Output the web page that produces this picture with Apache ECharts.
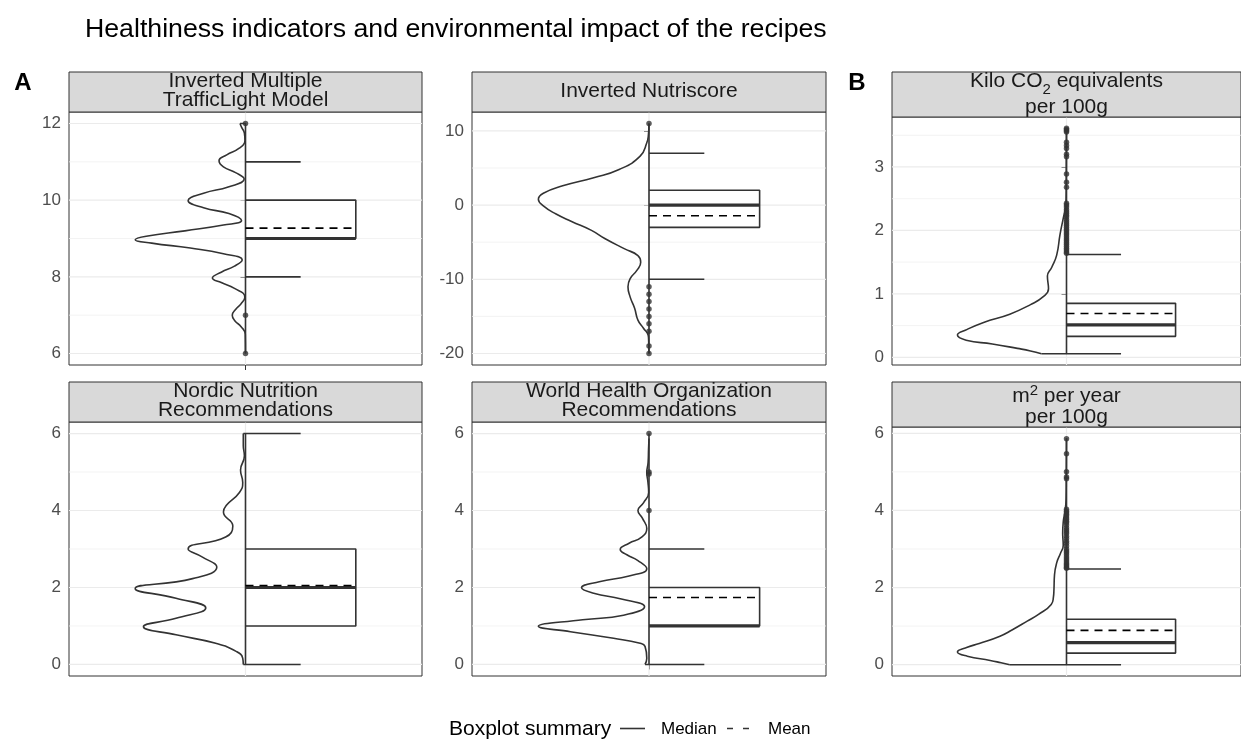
<!DOCTYPE html>
<html><head><meta charset="utf-8">
<script src="https://cdn.jsdelivr.net/npm/echarts@6/dist/echarts.min.js"></script>
<style>html,body{margin:0;padding:0;background:#fff}#c{width:1241px;height:739px}</style>
</head><body><div id="c"></div><script>
const FONT = '"Liberation Sans", Arial, "DejaVu Sans", sans-serif';
const INK = '#333333';

// ---------- text ----------
const mainTitle = 'Healthiness indicators and environmental impact of the recipes';
const stripTitles = [
  '{a|Inverted Multiple}\n{a|TrafficLight Model}',
  '{a|Inverted Nutriscore}',
  '{a|Kilo CO}{sub|2}{a| equivalents}\n{a|per 100g}',
  '{a|Nordic Nutrition}\n{a|Recommendations}',
  '{a|World Health Organization}\n{a|Recommendations}',
  '{a|m}{sup|2}{a| per year}\n{a|per 100g}'
];
const legendTitle = 'Boxplot summary';
const legendLabels = ['Median', 'Mean'];

// ---------- y-axis ticks ----------
const ticksTL = [6, 8, 10, 12],   minorTL = [7, 9, 11];
const ticksNS = [-20, -10, 0, 10], minorNS = [-15, -5, 5];
const ticksCO = [0, 1, 2, 3],     minorCO = [0.5, 1.5, 2.5, 3.5];
const ticksNN = [0, 2, 4, 6],     minorNN = [1, 3, 5];
const ticksWH = [0, 2, 4, 6],     minorWH = [1, 3, 5];
const ticksLU = [0, 2, 4, 6],     minorLU = [1, 3, 5];

// ---------- data ranges [min, max] ----------
const rangeTL = [6, 12];
const rangeNS = [-20, 11];
const rangeCO = [0.056, 3.61];
const rangeNN = [0, 6];
const rangeWH = [0, 6];
const rangeLU = [0, 5.87];

// ---------- density curves [value, relative density] ----------
const densTL = [[6.0,0.0],[6.5,0.002],[6.7,0.04],[6.85,0.095],[7.0,0.12],[7.15,0.09],[7.3,0.04],[7.47,0.006],
  [7.7,0.1],[7.85,0.22],[7.97,0.3],[8.12,0.22],[8.28,0.1],[8.44,0.03],[8.6,0.2],[8.75,0.5],[8.88,0.85],[8.97,1.0],
  [9.06,0.9],[9.2,0.55],[9.35,0.2],[9.47,0.036],[9.65,0.15],[9.8,0.38],[9.99,0.52],[10.18,0.38],[10.35,0.15],
  [10.55,0.012],[10.72,0.09],[10.87,0.2],[11.03,0.24],[11.18,0.17],[11.35,0.06],[11.55,0.005],[11.75,0.01],
  [11.9,0.035],[12.0,0.05]];
const densNS = [[-20,0.0],[-19,0.002],[-18,0.004],[-17.5,0.008],[-16.6,0.05],[-15.5,0.1],[-13.9,0.13],[-12.4,0.17],
  [-11,0.19],[-9.9,0.17],[-8.8,0.11],[-7.7,0.075],[-6.8,0.1],[-5.9,0.22],[-4.5,0.4],[-3.4,0.52],[-2.2,0.7],
  [-1.2,0.84],[-0.1,0.955],[0.8,1.0],[1.6,0.955],[2.6,0.78],[3.7,0.5],[4.8,0.27],[6.6,0.08],[8.4,0.02],[9.5,0.005],[11,0.0]];
const densCO = [[0.056,0.23],[0.1,0.33],[0.14,0.45],[0.21,0.68],[0.27,0.92],[0.35,1.0],[0.44,0.91],[0.55,0.76],
  [0.68,0.52],[0.83,0.33],[0.96,0.21],[1.08,0.165],[1.28,0.175],[1.42,0.135],[1.61,0.09],[1.93,0.06],[2.19,0.03],
  [2.42,0.005],[2.8,0.002],[3.61,0.0]];
const densNN = [[0,0.02],[0.16,0.025],[0.34,0.085],[0.55,0.27],[0.77,0.63],[0.98,0.925],[1.2,0.63],[1.47,0.36],
  [1.72,0.63],[1.97,1.0],[2.23,0.48],[2.53,0.26],[2.79,0.39],[3.0,0.52],[3.31,0.18],[3.6,0.115],[3.96,0.2],
  [4.13,0.175],[4.47,0.055],[4.73,0.025],[5.05,0.045],[5.42,0.01],[5.68,0.02],[6,0.02]];
const densWH = [[0,0.036],[0.16,0.02],[0.47,0.036],[0.55,0.08],[0.68,0.32],[0.85,0.71],[0.99,1.0],[1.16,0.6],
  [1.28,0.23],[1.5,0.04],[1.7,0.25],[1.85,0.5],[1.99,0.61],[2.15,0.45],[2.3,0.18],[2.49,0.02],[2.7,0.1],
  [2.85,0.2],[2.99,0.26],[3.15,0.18],[3.3,0.07],[3.53,0.02],[3.8,0.06],[4.0,0.1],[4.2,0.05],[4.47,0.003],
  [4.75,0.01],[4.99,0.02],[5.25,0.008],[5.6,0.004],[5.87,0.0]];
const densLU = [[0,0.52],[0.05,0.6],[0.11,0.7],[0.22,0.91],[0.33,1.0],[0.45,0.91],[0.55,0.8],[0.74,0.61],
  [0.9,0.5],[1.13,0.36],[1.3,0.26],[1.56,0.14],[1.75,0.12],[1.95,0.115],[2.33,0.11],[2.64,0.09],[2.89,0.055],
  [3.1,0.03],[3.4,0.035],[3.7,0.03],[4.0,0.012],[4.3,0.004],[4.8,0.002],[5.87,0.0]];

// ---------- box stats [lowerWhisker, q1, median, q3, upperWhisker, mean] ----------
const boxTL = [8, 9, 9, 10, 11, 9.27];
const boxNS = [-10, -3, 0, 2, 7, -1.43];
const boxCO = [0.056, 0.33, 0.51, 0.85, 1.62, 0.69];
const boxNN = [0, 1, 2, 3, 6, 2.05];
const boxWH = [0, 1, 1, 2, 3, 1.74];
const boxLU = [0, 0.30, 0.57, 1.18, 2.48, 0.89];

// ---------- outliers ----------
const outTL = [12, 7, 6];
const outNS = [11, -11, -12, -13, -14, -15, -16, -17, -19, -20];
const outCO = [3.61, 3.59, 3.57, 3.55, 3.39, 3.34, 3.29, 3.2, 3.16, 2.89, 2.76, 2.68, 2.43, 2.4, 2.37, 2.33, 2.3,
  2.27, 2.24, 2.21, 2.17, 2.14, 2.11, 2.08, 2.05, 2.02, 1.99, 1.96, 1.93, 1.9, 1.87, 1.84, 1.81, 1.78, 1.75, 1.72,
  1.69, 1.66, 1.64];
const outNN = [];
const outWH = [4, 4.95, 5, 6];
const outLU = [5.86, 5.47, 5.0, 4.87, 4.82, 4.03, 3.98, 3.94, 3.9, 3.86, 3.81, 3.77, 3.72, 3.68, 3.62, 3.55, 3.5,
  3.45, 3.4, 3.33, 3.27, 3.2, 3.15, 3.08, 3.0, 2.95, 2.9, 2.85, 2.79, 2.74, 2.69, 2.64, 2.6, 2.56, 2.52, 2.5];

// ---------- layout (pixels) ----------
const layout = [
  {left: 69,  width: 353, stripTop: 72,  top: 112, bottom: 365, lh: 19.5, cy: 90.5},
  {left: 472, width: 354, stripTop: 72,  top: 112, bottom: 365, lh: 19.5, cy: 91.5},
  {left: 892, width: 349, stripTop: 72,  top: 117, bottom: 365, lh: 26,   cy: 94.5},
  {left: 69,  width: 353, stripTop: 382, top: 422, bottom: 676, lh: 19.5, cy: 400.5},
  {left: 472, width: 354, stripTop: 382, top: 422, bottom: 676, lh: 19.5, cy: 400.5},
  {left: 892, width: 349, stripTop: 382, top: 427, bottom: 676, lh: 21,   cy: 407}
];

const panels = [
  {ticks: ticksTL, minor: minorTL, range: rangeTL, dens: densTL, box: boxTL, out: outTL},
  {ticks: ticksNS, minor: minorNS, range: rangeNS, dens: densNS, box: boxNS, out: outNS},
  {ticks: ticksCO, minor: minorCO, range: rangeCO, dens: densCO, box: boxCO, out: outCO},
  {ticks: ticksNN, minor: minorNN, range: rangeNN, dens: densNN, box: boxNN, out: outNN},
  {ticks: ticksWH, minor: minorWH, range: rangeWH, dens: densWH, box: boxWH, out: outWH},
  {ticks: ticksLU, minor: minorLU, range: rangeLU, dens: densLU, box: boxLU, out: outLU}
];

const HALF = 0.375, WHISK = 0.1875, XR = 0.6, LW = 1.6;
const grids = [], xAxes = [], yAxes = [], series = [], graphics = [];

function seg(i, data, style, z) {
  return {type: 'line', xAxisIndex: i, yAxisIndex: i, z: z, symbol: 'none', silent: true,
    data: data, lineStyle: style};
}

panels.forEach((p, i) => {
  const g = layout[i];
  grids.push({left: g.left, top: g.top, width: g.width, height: g.bottom - g.top,
    show: true, borderColor: INK, borderWidth: 1, backgroundColor: 'rgba(0,0,0,0)'});
  const span = p.range[1] - p.range[0];
  const ymin = p.range[0] - 0.05 * span, ymax = p.range[1] + 0.05 * span;
  xAxes.push({type: 'value', gridIndex: i, min: -XR, max: XR,
    axisLine: {show: false}, splitLine: {show: false},
    axisTick: {show: true, length: 5, customValues: [0], lineStyle: {color: INK, width: 1}},
    axisLabel: {show: false}});
  yAxes.push({type: 'value', gridIndex: i, min: ymin, max: ymax,
    axisLine: {show: false}, splitLine: {show: false},
    axisTick: {show: true, length: 5, customValues: p.ticks, lineStyle: {color: INK, width: 1}},
    axisLabel: {show: true, customValues: p.ticks, color: '#4D4D4D', fontSize: 17, fontFamily: FONT, margin: 8}});
  // grid lines (minor, major, vertical centre)
  p.minor.forEach(v => series.push(seg(i, [[-XR, v], [XR, v]], {color: '#F0F0F0', width: 0.8}, 0)));
  p.ticks.forEach(v => series.push(seg(i, [[-XR, v], [XR, v]], {color: '#EBEBEB', width: 1.2}, 0)));
  series.push(seg(i, [[0, ymin], [0, ymax]], {color: '#EBEBEB', width: 1.2}, 0));
  // half violin curve
  series.push(Object.assign(seg(i, p.dens.map(([y, d]) => [-HALF * d, y]), {color: INK, width: LW}, 3), {smooth: 0.5}));
  const d0 = p.dens[0][1], d1 = p.dens[p.dens.length - 1][1];
  series.push(seg(i, [[-HALF * d0, p.range[0]], [0, p.range[0]], [0, p.range[1]], [-HALF * d1, p.range[1]]],
    {color: INK, width: LW}, 3));
  const [lw, q1, med, q3, uw, mean] = p.box;
  series.push(seg(i, [[0, q1], [HALF, q1], [HALF, q3], [0, q3]], {color: INK, width: LW}, 4));
  series.push(seg(i, [[0, lw], [WHISK, lw]], {color: INK, width: LW}, 4));
  series.push(seg(i, [[0, uw], [WHISK, uw]], {color: INK, width: LW}, 4));
  series.push(seg(i, [[0, med], [HALF, med]], {color: INK, width: 3.2}, 5));
  series.push(seg(i, [[0, mean], [HALF, mean]], {color: '#000', width: 1.6, type: [8, 6]}, 6));
  series.push({type: 'scatter', xAxisIndex: i, yAxisIndex: i, z: 7, silent: true, symbolSize: 5.5,
    data: p.out.map(v => [0, v]), itemStyle: {color: INK}});

  // strip
  graphics.push({type: 'rect', shape: {x: g.left, y: g.stripTop, width: g.width, height: g.top - g.stripTop},
    style: {fill: '#D9D9D9', stroke: INK, lineWidth: 1}, z: 10});
  graphics.push({type: 'text', z: 11, style: {text: stripTitles[i], x: g.left + g.width / 2,
    y: g.cy, align: 'center', verticalAlign: 'middle',
    textAlign: 'center', textVerticalAlign: 'middle',
    fill: '#1A1A1A', font: '21px ' + FONT,
    rich: {
      a: {fontSize: 21, fontFamily: FONT, lineHeight: g.lh, fill: '#1A1A1A'},
      sub: {fontSize: 15, fontFamily: FONT, lineHeight: 10, padding: [16, 0, 0, 0], fill: '#1A1A1A'},
      sup: {fontSize: 15, fontFamily: FONT, lineHeight: 10, padding: [0, 0, 12, 0], fill: '#1A1A1A'}
    }}});
});

// panel tags
graphics.push({type: 'text', z: 11, style: {text: 'A', x: 23, y: 83, align: 'center', verticalAlign: 'middle',
  textAlign: 'center', textVerticalAlign: 'middle', fill: '#000', font: 'bold 24px ' + FONT}});
graphics.push({type: 'text', z: 11, style: {text: 'B', x: 857, y: 83, align: 'center', verticalAlign: 'middle',
  textAlign: 'center', textVerticalAlign: 'middle', fill: '#000', font: 'bold 24px ' + FONT}});

// legend
graphics.push({type: 'text', z: 11, style: {text: legendTitle, x: 449, y: 729, align: 'left', verticalAlign: 'middle',
  textAlign: 'left', textVerticalAlign: 'middle', fill: '#000', font: '21px ' + FONT}});
graphics.push({type: 'line', z: 11, shape: {x1: 620, y1: 728.5, x2: 645, y2: 728.5}, style: {stroke: INK, lineWidth: 1.6}});
graphics.push({type: 'text', z: 11, style: {text: legendLabels[0], x: 661, y: 729, align: 'left', verticalAlign: 'middle',
  textAlign: 'left', textVerticalAlign: 'middle', fill: '#000', font: '17px ' + FONT}});
graphics.push({type: 'line', z: 11, shape: {x1: 727, y1: 728.5, x2: 750, y2: 728.5},
  style: {stroke: INK, lineWidth: 1.6, lineDash: [6, 10]}});
graphics.push({type: 'text', z: 11, style: {text: legendLabels[1], x: 768, y: 729, align: 'left', verticalAlign: 'middle',
  textAlign: 'left', textVerticalAlign: 'middle', fill: '#000', font: '17px ' + FONT}});

const chart = echarts.init(document.getElementById('c'), null, {renderer: 'canvas'});
chart.setOption({
  animation: false,
  backgroundColor: '#fff',
  title: {text: mainTitle, left: 80, top: 11,
    textStyle: {fontSize: 26.7, fontWeight: 'normal', color: '#000', fontFamily: FONT}},
  grid: grids, xAxis: xAxes, yAxis: yAxes, series: series, graphic: graphics
});
</script></body></html>
